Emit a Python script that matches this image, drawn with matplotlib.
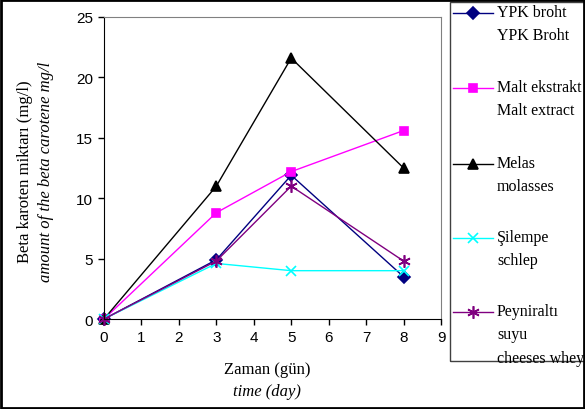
import matplotlib.pyplot as plt
from matplotlib.lines import Line2D
from matplotlib.patches import Rectangle

days = [0, 3, 5, 8]
ypk = [0, 4.9, 11.9, 3.5]
malt = [0, 8.8, 12.2, 15.6]
melas = [0, 11.0, 21.6, 12.5]
silempe = [0, 4.6, 4.0, 4.0]
peyniralti = [0, 4.8, 11.0, 4.8]

series = [
    (ypk, '#000080', 'D', 6, 'YPK broht\nYPK Broht'),
    (malt, '#FF00FF', 's', 6, 'Malt ekstrakt\nMalt extract'),
    (melas, '#000000', '^', 7, 'Melas\nmolasses'),
    (silempe, '#00FFFF', 'x', 7, 'Şilempe\nschlep'),
    (peyniralti, '#800080', (6, 2, 0), 9, 'Peyniraltı\nsuyu\ncheeses whey'),
]

serif = 'Liberation Serif'
sans = 'Liberation Sans'

fig = plt.figure(figsize=(5.85, 4.10), dpi=100)
W, H = 585, 410
ax = fig.add_axes([104 / W, 1 - 320 / H, (441 - 104) / W, (320 - 18) / H])

for vals, col, mk, ms, lab in series:
    ax.plot(days, vals, color=col, marker=mk, markersize=ms, linewidth=1,
            markeredgewidth=1.2, clip_on=False)

ax.set_xlim(0, 9)
ax.set_ylim(0, 25)
ax.set_xticks(range(0, 10))
ax.set_yticks(range(0, 26, 5))
ax.tick_params(direction='out', length=4, width=1, labelsize=11, pad=4)
for lbl in ax.get_xticklabels() + ax.get_yticklabels():
    lbl.set_fontfamily(sans)
ax.spines['top'].set_color('#808080')
ax.spines['right'].set_color('#808080')

fig.text(25 / W, 1 - 172 / H, 'Beta karoten miktarı (mg/l)', rotation=90,
         ha='center', va='center', fontsize=12, family=serif)
fig.text(46 / W, 1 - 172 / H, 'amount of the beta carotene mg/l', rotation=90,
         ha='center', va='center', fontsize=12, family=serif, style='italic')
fig.text(267 / W, 1 - 370 / H, 'Zaman (gün)', ha='center', va='center',
         fontsize=12, family=serif)
fig.text(267 / W, 1 - 392 / H, 'time (day)', ha='center', va='center',
         fontsize=12, family=serif, style='italic')

# legend drawn by hand
fig.add_artist(Rectangle((450 / W, 1 - 362 / H), 140 / W, 359 / H,
                         transform=fig.transFigure, fill=False,
                         edgecolor='#404040', linewidth=1))
tops = [14, 89, 165, 239, 313]
for (vals, col, mk, ms, lab), yt in zip(series, tops):
    yf = 1 - yt / H
    fig.add_artist(Line2D([453 / W, 493 / W], [yf, yf], transform=fig.transFigure,
                          color=col, linewidth=1))
    fig.add_artist(Line2D([473 / W], [yf], transform=fig.transFigure, color=col,
                          marker=mk, markersize=ms, markeredgewidth=1.2))
    fig.text(497 / W, 1 - (yt - 9) / H, lab, ha='left', va='top', fontsize=11.5,
             family=serif, linespacing=1.62)

fig.add_artist(Rectangle((1 / W, 1 / H), 583 / W, 408 / H, transform=fig.transFigure,
                         fill=False, edgecolor='black', linewidth=2))

fig.savefig('out.png', dpi=100)
